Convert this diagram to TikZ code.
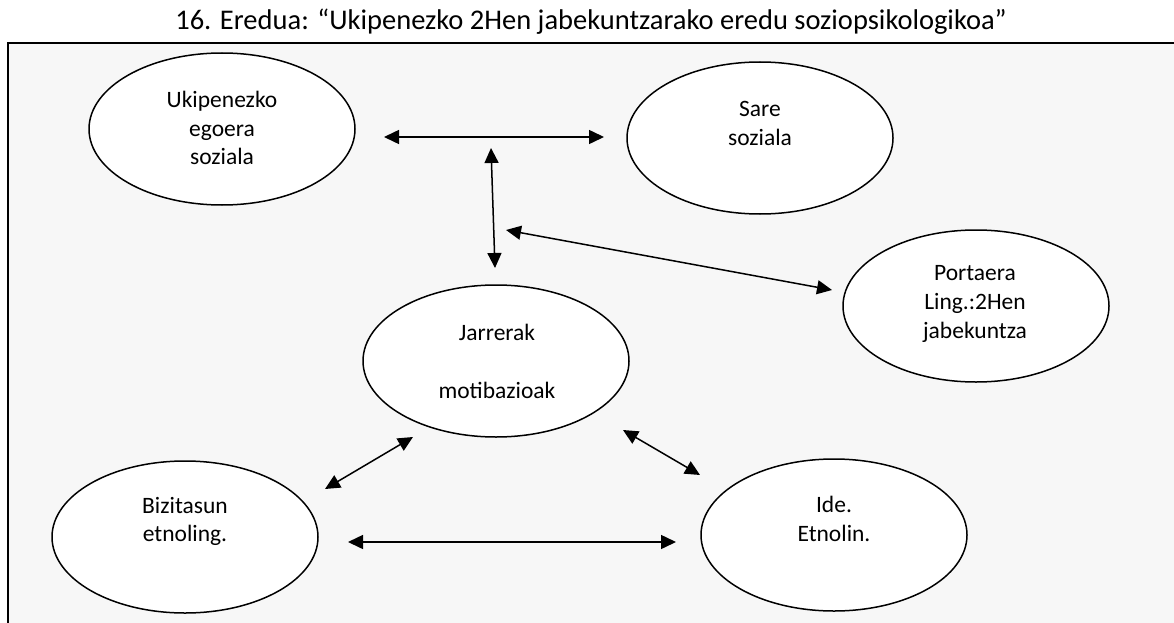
\documentclass[tikz,border=0pt]{standalone}
\usepackage{fontspec}
\setmainfont{Carlito}
\usetikzlibrary{arrows.meta,shapes.geometric}
\definecolor{panel}{HTML}{F7F7F7}
\begin{document}
\begin{tikzpicture}[x=1pt,y=-1pt,
  bubble/.style={draw=black, line width=1.5pt, fill=white, ellipse,
    minimum width=266pt, minimum height=152pt, inner sep=0pt},
  caption/.style={font=\fontsize{23.5}{28.7}\selectfont, align=center, inner sep=0pt},
  heading/.style={font=\fontsize{28.5}{34}\selectfont, inner sep=0pt},
  link/.style={line width=1.5pt,
    {Triangle[length=15pt,width=14pt]}-{Triangle[length=15pt,width=14pt]}}]

% page and framed panel
\useasboundingbox (0,0) rectangle (1174,623);
\fill[white] (0,0) rectangle (1174,623);
\fill[panel] (8,43) rectangle (1174,623);
\draw[line width=1.5pt] (8,623) -- (8,43) -- (1174,43);

% title
\node[heading] (title) at (591,22)
  {16. Eredua: “Ukipenezko 2Hen jabekuntzarako eredu soziopsikologikoa”};

% ellipses
\node[bubble] (uki)  at (222,129) {};
\node[bubble] (sare) at (760,138) {};
\node[bubble] (port) at (976,306) {};
\node[bubble] (jarr) at (496,361) {};
\node[bubble] (bizi) at (185,537) {};
\node[bubble] (ide)  at (834,535) {};

% ellipse texts
\node[caption] (ukiT)  at (222,128)   {Ukipenezko\\egoera\\soziala};
\node[caption] (sareT) at (760,123.5) {Sare\\soziala};
\node[caption] (portT) at (975,304)   {Portaera\\Ling.:2Hen\\jabekuntza};
\node[caption] (jarrT) at (497,361.5) {Jarrerak\\[28.7pt]motibazioak};
\node[caption] (biziT) at (185,521.5) {Bizitasun\\etnoling.};
\node[caption] (ideT)  at (834,519)   {Ide.\\Etnolin.};

% arrow end points
\coordinate (a1) at (384,137);  \coordinate (a2) at (604,137);
\coordinate (b1) at (491,148);  \coordinate (b2) at (495,268);
\coordinate (c1) at (506,230);  \coordinate (c2) at (832,290);
\coordinate (d1) at (325,489);  \coordinate (d2) at (413,437);
\coordinate (e1) at (623,430);  \coordinate (e2) at (700,475);
\coordinate (f1) at (348,542);  \coordinate (f2) at (676,542);

% two-headed arrows
\draw[link] (a1) -- (a2);
\draw[link] (b1) -- (b2);
\draw[link] (c1) -- (c2);
\draw[link] (d1) -- (d2);
\draw[link] (e1) -- (e2);
\draw[link] (f1) -- (f2);
\end{tikzpicture}
\end{document}
